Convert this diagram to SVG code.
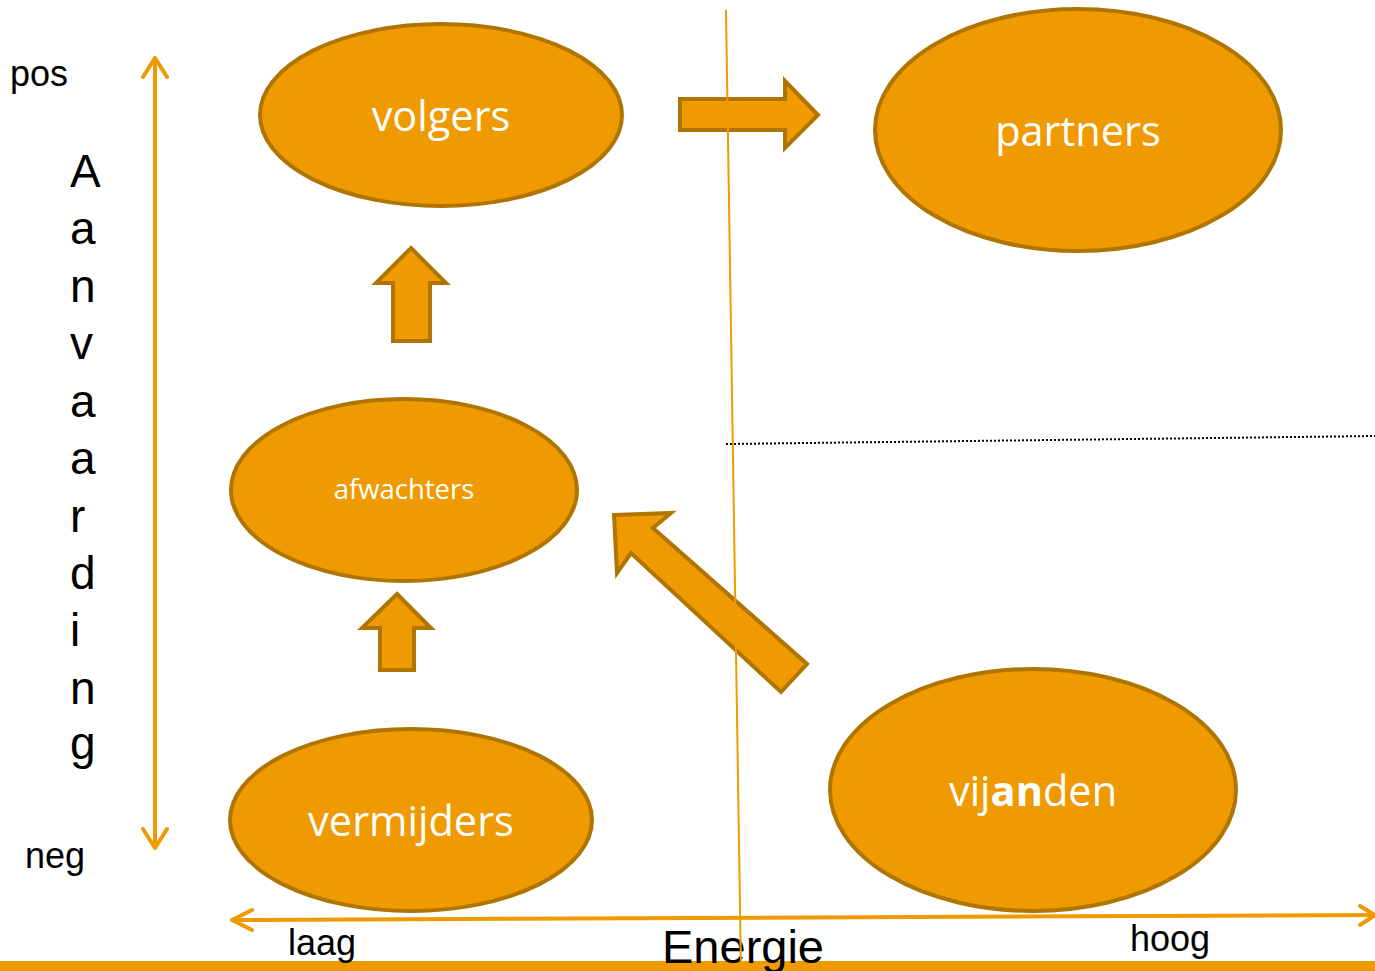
<svg xmlns="http://www.w3.org/2000/svg" width="1375" height="971" viewBox="0 0 1375 971">
<style>
.node{fill:#EE9A00;stroke:#B07400;stroke-width:4}
.blk{fill:#EE9A00;stroke:#B07400;stroke-width:4;stroke-linejoin:miter}
.lbl{font-family:"Open Sans","Noto Sans",sans-serif;fill:#fff;text-anchor:middle}
.ax{font-family:"Liberation Sans",Arial,sans-serif;fill:#000}
.axis{stroke:#EE9A00;stroke-width:4;fill:none;stroke-linecap:round;stroke-linejoin:round}
</style>
<rect x="0" y="0" width="1375" height="971" fill="#fff"/>
<rect x="0" y="961" width="1375" height="10" fill="#EE9A00"/>
<g id="axes">
<path class="axis" d="M155,58 V848 M143,77 L155,58 L167,77 M143,829 L155,848 L167,829"/>
<path class="axis" d="M232,920 L1375,915 M252,910 L232,920 L252,930"/>
<path class="axis" d="M1360,906 L1375,915 L1360,925"/>
</g>
<g id="labels-axes">
<text class="ax" x="10" y="86" font-size="36">pos</text>
<text class="ax" x="25" y="868" font-size="36">neg</text>
<text class="ax" x="288" y="955" font-size="36">laag</text>
<text class="ax" x="1130" y="951" font-size="36">hoog</text>
<text class="ax" x="662" y="963" font-size="47">Energie</text>
<g font-size="46" class="ax">
<text x="70" y="187">A</text>
<text x="70" y="244">a</text>
<text x="70" y="302">n</text>
<text x="70" y="359">v</text>
<text x="70" y="417">a</text>
<text x="70" y="474">a</text>
<text x="70" y="532">r</text>
<text x="70" y="589">d</text>
<text x="70" y="646">i</text>
<text x="70" y="704">n</text>
<text x="70" y="759">g</text>
</g>
</g>
<g id="volgers">
<ellipse class="node" cx="441" cy="115" rx="181" ry="91"/>
<text class="lbl" x="441" y="131" font-size="41.5">volgers</text>
</g>
<g id="partners">
<ellipse class="node" cx="1078" cy="130" rx="203" ry="121"/>
<text class="lbl" x="1078" y="146" font-size="41.5">partners</text>
</g>
<g id="afwachters">
<ellipse class="node" cx="404" cy="490" rx="173" ry="91"/>
<text class="lbl" x="404" y="499" font-size="27.5">afwachters</text>
</g>
<g id="vermijders">
<ellipse class="node" cx="411" cy="820" rx="181" ry="91"/>
<text class="lbl" x="411" y="836" font-size="41.5">vermijders</text>
</g>
<g id="vijanden">
<ellipse class="node" cx="1033" cy="790" rx="203" ry="121"/>
<text class="lbl" x="1033" y="806" font-size="41.5">vij<tspan font-weight="bold">an</tspan>den</text>
</g>
<g id="connectors">
<polygon class="blk" points="680,99 785,99 785,81 818,115 785,148 785,130 680,130"/>
<polygon class="blk" points="411,248 446,283 430,283 430,341 393,341 393,283 376,283"/>
<polygon class="blk" points="397,594 431,628 414,628 414,670 380,670 380,628 362,628"/>
<polygon class="blk" points="614,515 671,513 653,528 807,664 781,692 631,553 617,573"/>
<line x1="726" y1="10" x2="741" y2="971" stroke="#EE9A00" stroke-width="2"/>
<line x1="726" y1="444" x2="1375" y2="436" stroke="#000" stroke-width="2" stroke-dasharray="2,2"/>
</g>
</svg>
